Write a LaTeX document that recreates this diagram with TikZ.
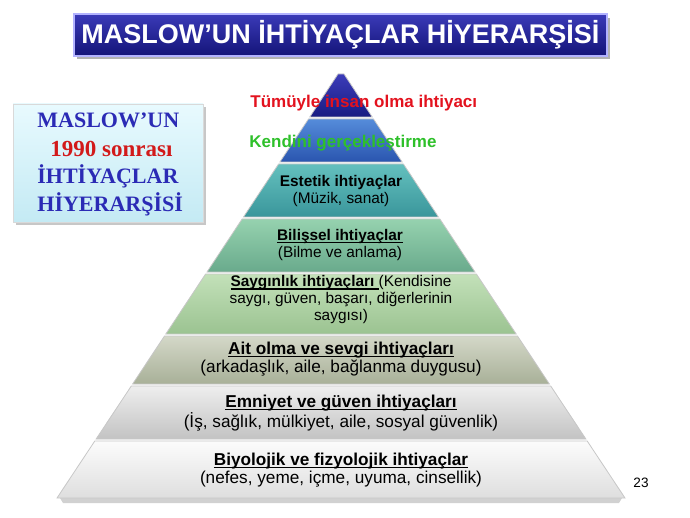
\documentclass[tikz,border=0pt]{standalone}
\usepackage{fontspec}
\setmainfont{Liberation Sans}
\newfontfamily\boxfont{Liberation Serif}

\definecolor{titletop}{HTML}{3A3AB8}
\definecolor{titlebot}{HTML}{141478}
\definecolor{boxblue}{HTML}{2B2BB5}
\definecolor{boxred}{HTML}{D21A1A}
\definecolor{topred}{HTML}{E3121E}
\definecolor{topgreen}{HTML}{2EC02A}

% underline close to the baseline
\newcommand\uln[1]{\setbox0=\hbox{#1}\makebox[0pt][l]{\raisebox{-1.3pt}{\rule{\wd0}{0.55pt}}}\box0\relax}

\begin{document}
\begin{tikzpicture}[x=0.5pt,y=-0.5pt,
    layer/.style={draw=black!22, line width=0.4pt},
    lbl/.style={align=center, inner sep=0pt, font=\fontsize{7.7}{8.5}\selectfont},
    biglbl/.style={align=center, inner sep=0pt, font=\fontsize{8.6}{8.6}\selectfont},
    boxtxt/.style={anchor=base west, inner sep=0pt, text=boxblue,
        font=\boxfont\bfseries\fontsize{11}{11}\selectfont}]
    \useasboundingbox (0,0) rectangle (690,518);

    % title bar
    \fill[black!30] (77,18) rectangle (610,59);
    \shade[top color=titletop, bottom color=titlebot, draw=blue!30!white, line width=0.6pt]
        (74,14) rectangle (607,56);
    \node[text=white, font=\bfseries\fontsize{13.5}{14}\selectfont] (title) at (340.5,35)
        {MASLOW’UN İHTİYAÇLAR HİYERARŞİSİ};

    % side box
    \fill[black!22] (16,107) rectangle (206,225);
    \shade[top color={rgb,255:red,232;green,250;blue,254}, bottom color={rgb,255:red,196;green,234;blue,244},
        draw=black!15] (13,104) rectangle (203,222);
    \node[boxtxt] (boxa) at (37,128) {MASLOW’UN};
    \node[boxtxt, text=boxred, font=\boxfont\bfseries\fontsize{11.5}{11.5}\selectfont] (boxb) at (50,157)
        {1990 sonrası};
    \node[boxtxt] (boxc) at (37,184) {İHTİYAÇLAR};
    \node[boxtxt] (boxd) at (37,212) {HİYERARŞİSİ};

    % pyramid
    \fill[black!18] (60,498) -- (622,498) -- (619,503) -- (63,503) -- cycle;
    \shade[layer, top color={rgb,255:red,60;green,60;blue,185}, bottom color={rgb,255:red,24;green,28;blue,130}]
        (338,74) -- (344,74) -- (372.2,117) -- (309.8,117) -- cycle;
    \shade[layer, top color={rgb,255:red,85;green,140;blue,218}, bottom color={rgb,255:red,42;green,85;blue,175}]
        (308.5,119) -- (373.5,119) -- (402.1,162) -- (279.9,162) -- cycle;
    \shade[layer, top color={rgb,255:red,100;green,192;blue,190}, bottom color={rgb,255:red,58;green,150;blue,155}]
        (278.6,164) -- (403.4,164) -- (438.5,217) -- (243.5,217) -- cycle;
    \shade[layer, top color={rgb,255:red,150;green,210;blue,175}, bottom color={rgb,255:red,105;green,170;blue,140}]
        (242.1,219) -- (439.9,219) -- (475,272) -- (207,272) -- cycle;
    \shade[layer, top color={rgb,255:red,195;green,225;blue,185}, bottom color={rgb,255:red,155;green,195;blue,145}]
        (205.6,274) -- (476.4,274) -- (516.2,334) -- (165.8,334) -- cycle;
    \shade[layer, top color={rgb,255:red,212;green,216;blue,200}, bottom color={rgb,255:red,168;green,176;blue,152}]
        (164.5,336) -- (517.5,336) -- (549.4,384) -- (132.6,384) -- cycle;
    \shade[layer, top color={rgb,255:red,238;green,238;blue,238}, bottom color={rgb,255:red,195;green,195;blue,195}]
        (131.3,386) -- (550.7,386) -- (585.9,439) -- (96.1,439) -- cycle;
    \shade[layer, top color={rgb,255:red,252;green,252;blue,252}, bottom color={rgb,255:red,222;green,222;blue,222}]
        (94.8,441) -- (587.2,441) -- (625,498) -- (57,498) -- cycle;

    % layer texts
    \node[text=topred, font=\bfseries\fontsize{8.5}{9}\selectfont, anchor=west, inner sep=0pt] (insan) at (250,103)
        {Tümüyle insan olma ihtiyacı};
    \node[text=topgreen, font=\bfseries\fontsize{8.5}{9}\selectfont, anchor=west, inner sep=0pt] (kendini) at (249,143)
        {Kendini gerçekleştirme};
    \node[lbl] (estetik) at (341,191) {\textbf{Estetik ihtiyaçlar}\\(Müzik, sanat)};
    \node[lbl] (bilissel) at (340,245) {\uln{\textbf{Bilişsel ihtiyaçlar}}\\(Bilme ve anlama)};
    \node[lbl] (saygi) at (341,300) {\uln{\textbf{Saygınlık ihtiyaçları }}(Kendisine\\
        saygı, güven, başarı, diğerlerinin\\saygısı)};
    \node[biglbl] (ait) at (341,359) {\uln{\textbf{Ait olma ve sevgi ihtiyaçları}}\\(arkadaşlık, aile, bağlanma duygusu)};
    \node[biglbl] (emniyet) at (341,413) {\uln{\textbf{Emniyet ve güven ihtiyaçları}}\\(İş, sağlık, mülkiyet, aile, sosyal güvenlik)};
    \node[biglbl] (biyo) at (341,470) {\uln{\textbf{Biyolojik ve fizyolojik ihtiyaçlar}}\\(nefes, yeme, içme, uyuma, cinsellik)};

    \node[font=\fontsize{6.8}{7}\selectfont, inner sep=0pt] (sayfa) at (641,483) {23};
\end{tikzpicture}
\end{document}
